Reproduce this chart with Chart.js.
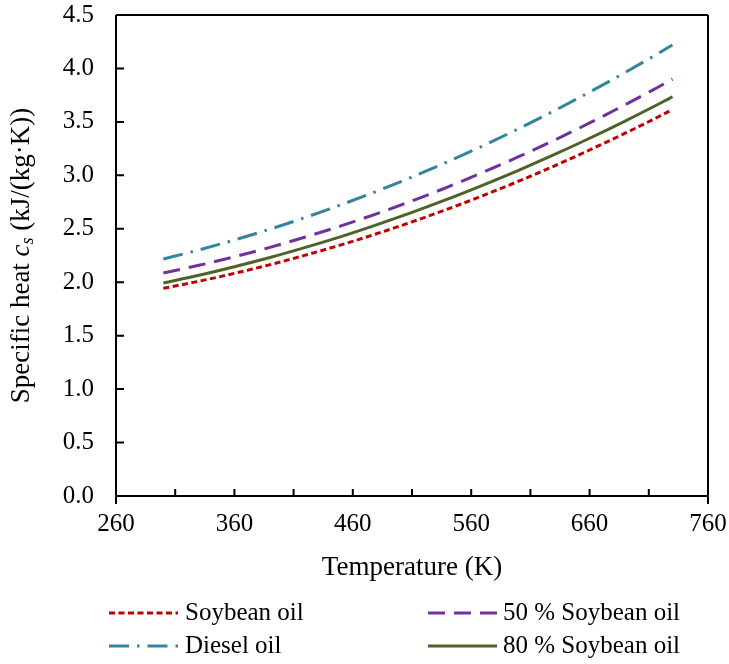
<!DOCTYPE html>
<html><head><meta charset="utf-8">
<script src="https://cdn.jsdelivr.net/npm/chart.js@4/dist/chart.umd.min.js"></script>
<style>html,body{margin:0;padding:0;background:#fff;}#wrap{width:729px;height:664px;position:relative;}</style>
</head><body><div id="wrap"><canvas id="c" width="729" height="664"></canvas></div>
<script>
// ---- data ----
const temperatures = [300, 330, 360, 390, 420, 450, 480, 510, 540, 570, 600, 630, 660, 690, 720, 730];
const soybeanOil   = [1.943, 2.009, 2.083, 2.164, 2.253, 2.349, 2.453, 2.565, 2.684, 2.811, 2.945, 3.087, 3.237, 3.394, 3.558, 3.615];
const soybean50    = [2.086, 2.158, 2.238, 2.326, 2.423, 2.527, 2.640, 2.761, 2.890, 3.028, 3.174, 3.327, 3.490, 3.660, 3.838, 3.900];
const dieselOil    = [2.217, 2.302, 2.395, 2.496, 2.606, 2.724, 2.850, 2.984, 3.127, 3.277, 3.436, 3.603, 3.779, 3.962, 4.154, 4.220];
const soybean80    = [1.993, 2.065, 2.145, 2.231, 2.326, 2.427, 2.537, 2.653, 2.777, 2.909, 3.047, 3.193, 3.347, 3.508, 3.677, 3.735];
const seriesNames  = ["Soybean oil", "50 % Soybean oil", "Diesel oil", "80 % Soybean oil"];
const xTickValues  = [260, 360, 460, 560, 660, 760];
const xMinorTicks  = [260, 310, 360, 410, 460, 510, 560, 610, 660, 710, 760];
const yTickValues  = [0, 0.5, 1.0, 1.5, 2.0, 2.5, 3.0, 3.5, 4.0, 4.5];
const xTitle = "Temperature (K)";

const SERIF = '"Liberation Serif", "Times New Roman", serif';
const pts = ys => temperatures.map((t, i) => ({x: t, y: ys[i]}));

const styles = [
  {color: '#C00000', dash: [6, 3.5], width: 3},
  {color: '#7030A0', dash: [17, 9], width: 3},
  {color: '#31859C', dash: [20, 8, 2.5, 8], width: 3},
  {color: '#4F6228', dash: [], width: 3}
];
const seriesData = [soybeanOil, soybean50, dieselOil, soybean80];

const decor = {
  id: 'decor',
  afterDraw(chart) {
    const ctx = chart.ctx, a = chart.chartArea;
    const xs = chart.scales.x, ys = chart.scales.y;
    ctx.save();
    ctx.strokeStyle = '#000';
    ctx.lineWidth = 2;
    ctx.setLineDash([]);
    // frame
    ctx.beginPath();
    ctx.moveTo(a.left, a.top); ctx.lineTo(a.right, a.top);
    ctx.moveTo(a.left, a.bottom); ctx.lineTo(a.right, a.bottom);
    ctx.moveTo(a.left, a.top); ctx.lineTo(a.left, a.bottom + 8);
    ctx.moveTo(a.right, a.top); ctx.lineTo(a.right, a.bottom + 8);
    ctx.stroke();
    // ticks
    ctx.beginPath();
    yTickValues.forEach(v => { const y = ys.getPixelForValue(v); ctx.moveTo(a.left, y); ctx.lineTo(a.left + 8, y); });
    xMinorTicks.forEach(v => { const x = xs.getPixelForValue(v); ctx.moveTo(x, a.bottom); ctx.lineTo(x, a.bottom - 7); });
    ctx.stroke();
    // x title
    ctx.fillStyle = '#000';
    ctx.font = '27px ' + SERIF;
    ctx.textAlign = 'center'; ctx.textBaseline = 'middle';
    ctx.fillText(xTitle, (a.left + a.right) / 2, 568);
    // y title with italic c_s
    const parts = [
      {t: 'Specific heat ', f: '27px ' + SERIF, dy: 0},
      {t: 'c', f: 'italic 27px ' + SERIF, dy: 0},
      {t: 's', f: 'italic 18px ' + SERIF, dy: 6},
      {t: ' (kJ/(kg\u00B7K))', f: '27px ' + SERIF, dy: 0}
    ];
    let total = 0;
    parts.forEach(p => { ctx.font = p.f; p.w = ctx.measureText(p.t).width; total += p.w; });
    ctx.translate(22, (a.top + a.bottom) / 2);
    ctx.rotate(-Math.PI / 2);
    ctx.textAlign = 'left'; ctx.textBaseline = 'middle';
    let px = -total / 2;
    parts.forEach(p => { ctx.font = p.f; ctx.fillText(p.t, px, p.dy); px += p.w; });
    ctx.restore();
    // legend
    ctx.save();
    const slots = [
      {lx: 109, tx: 185, y: 613},
      {lx: 428, tx: 503, y: 613},
      {lx: 109, tx: 185, y: 646},
      {lx: 428, tx: 503, y: 646}
    ];
    const order = [0, 1, 2, 3];
    order.forEach((si, k) => {
      const s = slots[k], st = styles[si];
      ctx.strokeStyle = st.color; ctx.lineWidth = st.width; ctx.setLineDash(st.dash);
      ctx.beginPath(); ctx.moveTo(s.lx, s.y); ctx.lineTo(s.lx + 69, s.y); ctx.stroke();
      ctx.setLineDash([]);
      ctx.fillStyle = '#000'; ctx.font = '25px ' + SERIF;
      ctx.textAlign = 'left'; ctx.textBaseline = 'middle';
      ctx.fillText(seriesNames[si], s.tx, s.y);
    });
    ctx.restore();
  }
};

new Chart(document.getElementById('c'), {
  type: 'line',
  data: {
    datasets: seriesData.map((d, i) => ({
      label: seriesNames[i],
      data: pts(d),
      borderColor: styles[i].color,
      borderWidth: styles[i].width,
      borderDash: styles[i].dash,
      pointRadius: 0,
      fill: false,
      cubicInterpolationMode: 'monotone'
    }))
  },
  options: {
    responsive: false,
    animation: false,
    devicePixelRatio: 1,
    layout: {padding: {top: 15, right: 21, left: 0, bottom: 0}},
    plugins: {legend: {display: false}, tooltip: {enabled: false}},
    scales: {
      x: {
        type: 'linear', min: 260, max: 760,
        afterBuildTicks: s => { s.ticks = xTickValues.map(v => ({value: v})); },
        afterFit: s => { s.height = 664 - 496; s.paddingLeft = 0; s.paddingRight = 0; },
        grid: {display: false, drawTicks: false},
        border: {display: false},
        ticks: {font: {family: SERIF, size: 25}, color: '#000', padding: 13, maxRotation: 0, callback: v => String(v)}
      },
      y: {
        type: 'linear', min: 0, max: 4.5,
        afterBuildTicks: s => { s.ticks = yTickValues.map(v => ({value: v})); },
        afterFit: s => { s.width = 116; s.paddingTop = 0; s.paddingBottom = 0; },
        grid: {display: false, drawTicks: false},
        border: {display: false},
        ticks: {font: {family: SERIF, size: 25}, color: '#000', padding: 22, callback: v => Number(v).toFixed(1)}
      }
    }
  },
  plugins: [decor]
});
</script>
</body></html>
